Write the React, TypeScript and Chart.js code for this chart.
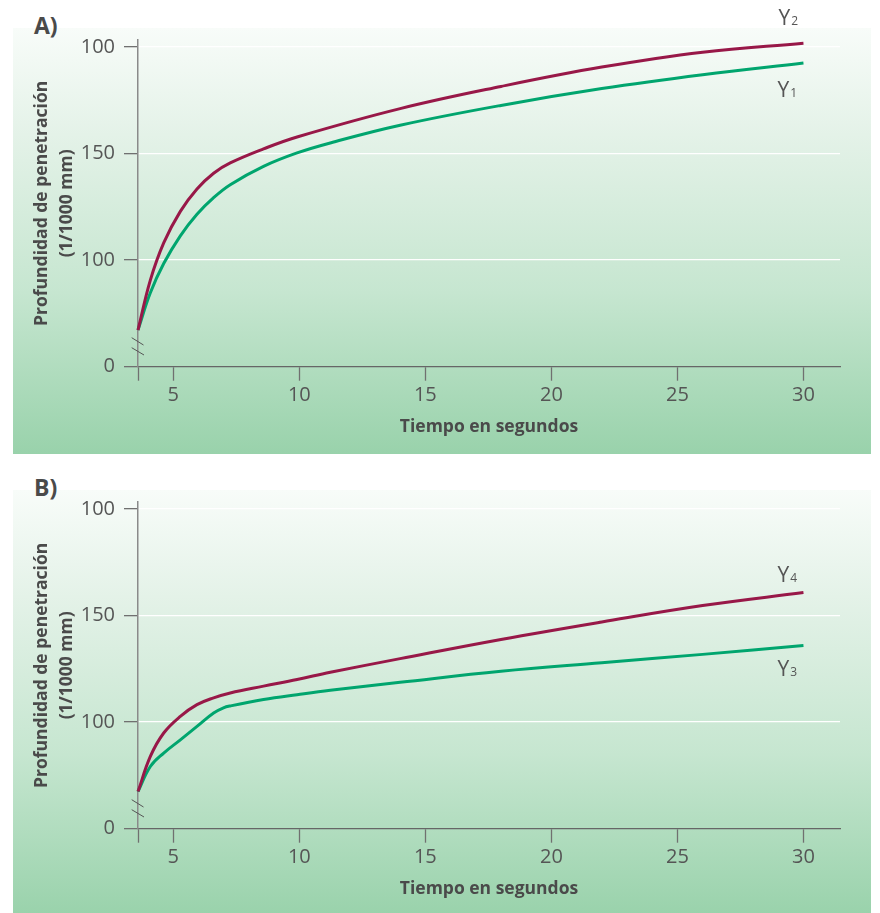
import React, { useEffect, useRef } from "react";
import { Chart, registerables } from "chart.js";

Chart.register(...registerables);

// ---- axis definitions ----
const yTickValues = [50, 100, 150, 200];
const yTickLabels = ["0", "100", "150", "100"];
const xTickValues = [5, 10, 15, 20, 25, 30];
const X_MIN = 3.6;
const X_MAX = 31.45;
const Y_MIN = 50;
const Y_MAX = 203.3;

const xAxisTitle = "Tiempo en segundos";
const yAxisTitle = ["Profundidad de penetración", "(1/1000 mm)"];

// ---- panel A ----
const y2X = [3.6, 4.09, 4.62, 5.28, 5.94, 6.6, 7.26, 8.58, 9.91, 14, 18, 22, 26, 30];
const y2Values = [67.2, 90.6, 108.1, 122.9, 133.4, 140.8, 145.6, 152.2, 157.8, 171.1, 181.5, 190.6, 197.6, 201.8];

const y1X = [3.6, 4.09, 4.62, 5.28, 5.94, 6.6, 7.26, 8.58, 9.91, 11.23, 14, 18, 22, 26, 30];
const y1Values = [67.2, 84.7, 98.4, 111.4, 121.5, 129.3, 135.4, 144.0, 150.3, 155.0, 163.3, 172.6, 180.5, 187.0, 192.5];

// ---- panel B ----
const y4X = [3.6, 4.09, 4.62, 5.28, 5.94, 6.6, 7.26, 8.58, 9.91, 11.23, 14, 18, 22, 26, 30];
const y4Values = [67.4, 83.9, 94.9, 102.7, 108.2, 111.4, 113.7, 116.9, 120.0, 123.4, 129.8, 138.8, 147.0, 154.7, 160.8];

const y3X = [3.6, 4.09, 4.62, 5.28, 5.94, 6.6, 6.99, 7.26, 8.58, 9.91, 11.23, 14, 18, 22, 26, 30];
const y3Values = [67.4, 79.2, 85.5, 91.7, 98.0, 104.3, 106.7, 107.6, 110.6, 112.9, 115.0, 118.7, 123.9, 127.9, 131.8, 136.0];

const MAROON = "#981848";
const GREEN = "#00a56e";
const FONT = '"Open Sans", "Noto Sans", sans-serif';

type Series = { sub: string; xs: number[]; ys: number[]; color: string; labelDx: number; labelDy: number };

const panels: { title: string; series: Series[] }[] = [
  {
    title: "A)",
    series: [
      { sub: "2", xs: y2X, ys: y2Values, color: MAROON, labelDx: -25, labelDy: -18 },
      { sub: "1", xs: y1X, ys: y1Values, color: GREEN, labelDx: -26, labelDy: 34 },
    ],
  },
  {
    title: "B)",
    series: [
      { sub: "4", xs: y4X, ys: y4Values, color: MAROON, labelDx: -26, labelDy: -11 },
      { sub: "3", xs: y3X, ys: y3Values, color: GREEN, labelDx: -26, labelDy: 31 },
    ],
  },
];

const endLabels = {
  id: "endLabels",
  afterDatasetsDraw(chart: any) {
    const ctx = chart.ctx;
    chart.data.datasets.forEach((ds: any, i: number) => {
      const meta = chart.getDatasetMeta(i);
      const pt = meta.data[meta.data.length - 1];
      if (!pt) return;
      const x0 = pt.x + ds.labelDx;
      const yb = pt.y + ds.labelDy;
      ctx.save();
      ctx.fillStyle = "#555555";
      ctx.textBaseline = "alphabetic";
      ctx.textAlign = "left";
      ctx.font = `21px ${FONT}`;
      ctx.fillText("Y", x0, yb);
      const w = ctx.measureText("Y").width;
      ctx.font = `12px ${FONT}`;
      ctx.fillText(ds.sub, x0 + w + 1, yb);
      ctx.restore();
    });
  },
};

const breakMarks = {
  id: "breakMarks",
  afterDraw(chart: any) {
    const { left, bottom } = chart.chartArea;
    const ctx = chart.ctx;
    ctx.save();
    ctx.strokeStyle = "#555555";
    ctx.lineWidth = 1;
    ctx.beginPath();
    ctx.moveTo(left - 6.3, bottom - 29);
    ctx.lineTo(left + 5.5, bottom - 21.7);
    ctx.moveTo(left - 6.3, bottom - 19);
    ctx.lineTo(left + 6, bottom - 11.7);
    ctx.stroke();
    ctx.restore();
  },
};

function Panel({ top, panel }: { top: number; panel: { title: string; series: Series[] } }) {
  const ref = useRef<HTMLCanvasElement | null>(null);
  useEffect(() => {
    if (!ref.current) return;
    const chart = new Chart(ref.current, {
      type: "line",
      data: {
        datasets: panel.series.map((s) => ({
          label: "Y" + s.sub,
          data: s.xs.map((x, i) => ({ x, y: s.ys[i] })),
          borderColor: s.color,
          borderWidth: 3,
          pointRadius: 0,
          fill: false,
          tension: 0.4,
          clip: false,
          sub: s.sub,
          labelDx: s.labelDx,
          labelDy: s.labelDy,
        })) as any,
      },
      options: {
        responsive: false,
        animation: false,
        devicePixelRatio: 1,
        layout: { padding: { top: 40, right: 40, left: 0, bottom: 0 } },
        plugins: { legend: { display: false }, tooltip: { enabled: false } },
        elements: { line: { capBezierPoints: false } },
        scales: {
          x: {
            type: "linear",
            min: X_MIN,
            max: X_MAX,
            afterBuildTicks: (scale: any) => {
              scale.ticks = [X_MIN, ...xTickValues].map((v) => ({ value: v }));
            },
            afterFit: (scale: any) => {
              scale.height = 88.3;
            },
            ticks: {
              autoSkip: false,
              maxRotation: 0,
              padding: 3,
              color: "#555555",
              font: { family: FONT, size: 20 },
              callback: (v: any) => (xTickValues.includes(Number(v)) ? String(v) : ""),
            },
            grid: {
              drawOnChartArea: false,
              drawTicks: true,
              tickLength: 14,
              tickWidth: 1.3,
              tickColor: "#707070",
            },
            border: { display: true, color: "#666666", width: 1.3 },
            title: {
              display: true,
              text: xAxisTitle,
              color: "#4a4a4a",
              font: { family: FONT, size: 17.5, weight: "bold", lineHeight: 1.2 },
              padding: { top: 0, bottom: 17.5 },
            },
          },
          y: {
            type: "linear",
            min: Y_MIN,
            max: Y_MAX,
            afterBuildTicks: (scale: any) => {
              scale.ticks = yTickValues.map((v) => ({ value: v }));
            },
            afterFit: (scale: any) => {
              scale.width = 138;
            },
            ticks: {
              padding: 9,
              color: "#555555",
              font: { family: FONT, size: 20 },
              callback: (v: any) => {
                const i = yTickValues.indexOf(Number(v));
                return i >= 0 ? yTickLabels[i] : "";
              },
            },
            grid: {
              drawTicks: true,
              tickLength: 14,
              tickWidth: 1.3,
              tickColor: "#707070",
              lineWidth: 1.3,
              color: (c: any) => (c.tick && c.tick.value === Y_MIN ? "rgba(0,0,0,0)" : "#ffffff"),
            },
            border: { display: true, color: "#8a8a8a", width: 1.5 },
            title: {
              display: true,
              text: yAxisTitle,
              color: "#4a4a4a",
              font: { family: FONT, size: 17.5, weight: "bold", lineHeight: 1.4 },
              padding: { top: 30.25, bottom: 0 },
            },
          },
        },
      } as any,
      plugins: [endLabels, breakMarks],
    });
    return () => chart.destroy();
  }, [panel]);

  return (
    <div style={{ position: "absolute", left: 0, top, width: 880, height: 455 }}>
      <div
        style={{
          position: "absolute",
          left: 13,
          top: 28,
          width: 858,
          height: 426,
          background:
            "linear-gradient(to bottom, #f8fcf9 0%, #e4f2e8 25%, #c6e6d0 62%, #99d2ab 100%)",
        }}
      />
      <div
        style={{
          position: "absolute",
          left: 34,
          top: 14,
          fontFamily: FONT,
          fontWeight: "bold",
          fontSize: 23,
          lineHeight: "23px",
          color: "#4a4a4a",
        }}
      >
        {panel.title}
      </div>
      <canvas
        ref={ref}
        width={880}
        height={455}
        style={{ position: "absolute", left: 0, top: 0, width: 880, height: 455, display: "block" }}
      />
    </div>
  );
}

export default function App() {
  return (
    <div
      style={{
        position: "fixed",
        left: 0,
        top: 0,
        width: 880,
        height: 913,
        overflow: "hidden",
        background: "#ffffff",
      }}
    >
      <Panel top={0} panel={panels[0]} />
      <Panel top={462} panel={panels[1]} />
    </div>
  );
}
